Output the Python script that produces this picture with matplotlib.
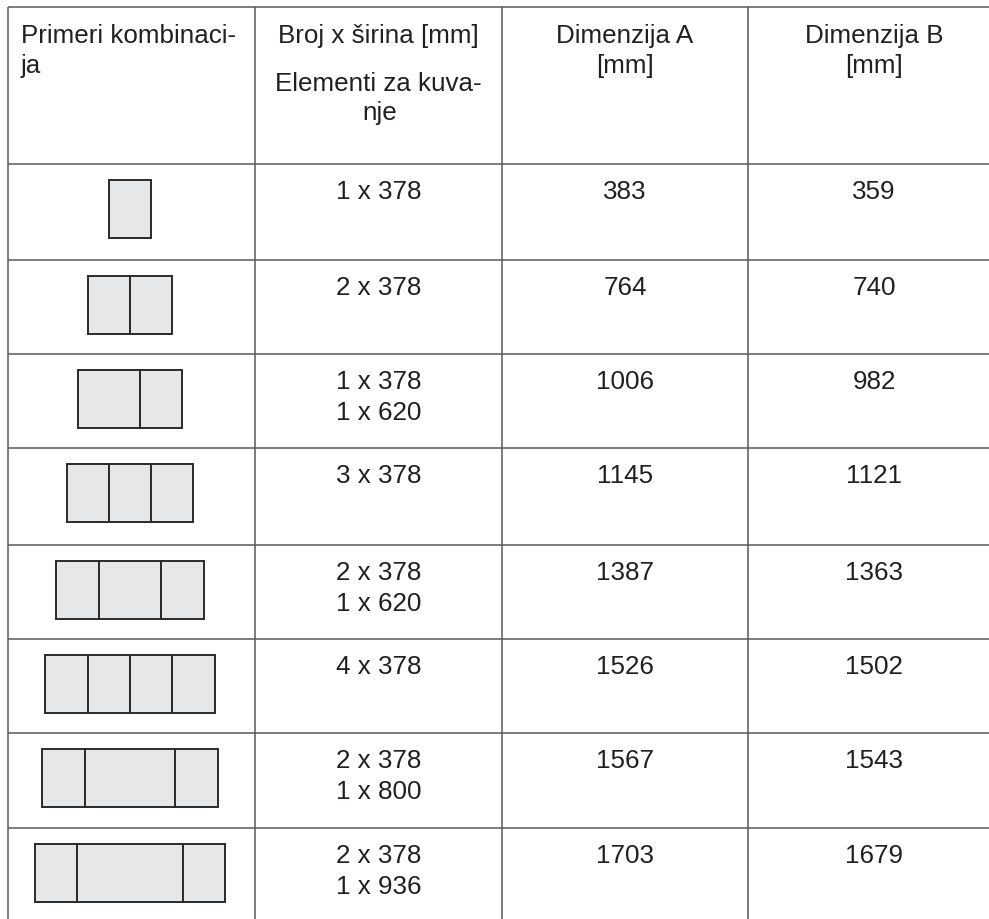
import matplotlib
matplotlib.use("Agg")
import matplotlib.pyplot as plt
from matplotlib.patches import Rectangle

# ---- data ----
headers_col1 = ["Primeri kombinaci-", "ja"]
headers_col2a = "Broj x širina [mm]"
headers_col2b = ["Elementi za kuva-", "nje"]
headers_col3 = ["Dimenzija A", "[mm]"]
headers_col4 = ["Dimenzija B", "[mm]"]

combos = [
    [378],
    [378, 378],
    [620, 378],
    [378, 378, 378],
    [378, 620, 378],
    [378, 378, 378, 378],
    [378, 800, 378],
    [378, 936, 378],
]
count_width = [
    ["1 x 378"],
    ["2 x 378"],
    ["1 x 378", "1 x 620"],
    ["3 x 378"],
    ["2 x 378", "1 x 620"],
    ["4 x 378"],
    ["2 x 378", "1 x 800"],
    ["2 x 378", "1 x 936"],
]
dim_a = [383, 764, 1006, 1145, 1387, 1526, 1567, 1703]
dim_b = [359, 740, 982, 1121, 1363, 1502, 1543, 1679]

# schematic drawn width of each module (relative to a 378 mm element)
drawn_rel = {378: 1.0, 620: 1.48, 800: 2.15, 936: 2.51}

# ---- layout (pixel coordinates) ----
W, H = 989, 920
fig = plt.figure(figsize=(W / 100, H / 100), dpi=100)
ax = fig.add_axes([0, 0, 1, 1])
ax.set_xlim(0, W)
ax.set_ylim(H, 0)
ax.axis("off")

line_col = "#58595b"
text_col = "#231f20"
fs = 18.7
font = "Liberation Sans"

col_x = [8, 255, 502, 748]
row_y = [8, 165, 261, 355, 449, 546, 640, 734, 829]
centers = [131, 378.5, 625, 874]

for x in col_x:
    ax.plot([x, x], [row_y[0], H], color=line_col, lw=1.1, solid_capstyle="butt")
for y in row_y:
    ax.plot([col_x[0], W], [y, y], color=line_col, lw=1.1, solid_capstyle="butt")

def txt(x, y, s, ha="center"):
    ax.text(x, y, s, ha=ha, va="baseline", fontsize=fs, family=font, color=text_col)

# header
txt(21, 43, headers_col1[0], ha="left")
txt(21, 73, headers_col1[1], ha="left")
txt(centers[1], 43, headers_col2a)
txt(centers[1], 91, headers_col2b[0])
txt(380, 120, headers_col2b[1])
txt(centers[2], 43, headers_col3[0])
txt(centers[2], 73, headers_col3[1])
txt(centers[3], 43, headers_col4[0])
txt(centers[3], 73, headers_col4[1])

unit = 42.3
rect_cx = 130
for i, mods in enumerate(combos):
    top = row_y[i + 1]
    widths = [drawn_rel[m] * unit for m in mods]
    total = sum(widths)
    x0 = rect_cx - total / 2
    for w in widths:
        ax.add_patch(Rectangle((x0, top + 16), w, 58, facecolor="#e6e7e8",
                               edgecolor="#2a2a2a", lw=1.4))
        x0 += w
    for j, line in enumerate(count_width[i]):
        txt(centers[1], top + 34 + 31 * j, line)
    txt(centers[2], top + 34, str(dim_a[i]))
    txt(centers[3], top + 34, str(dim_b[i]))

fig.savefig("out.png", dpi=100)
